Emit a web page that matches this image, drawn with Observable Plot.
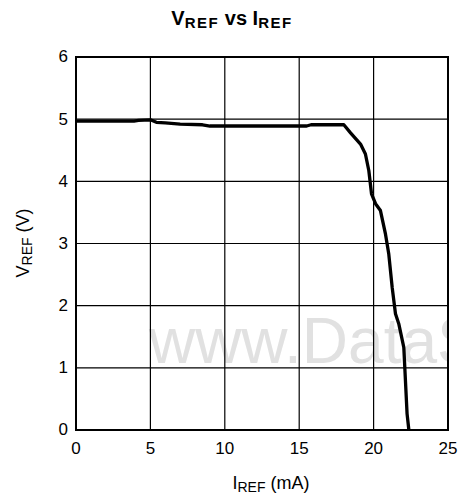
<!DOCTYPE html>
<html>
<head>
<meta charset="utf-8">
<script src="https://cdn.jsdelivr.net/npm/d3@7"></script>
<script src="https://cdn.jsdelivr.net/npm/@observablehq/plot@0.6"></script>
<style>
  html, body { margin: 0; padding: 0; background: #fff; }
  #chart svg { display: block; }
</style>
</head>
<body>
<div id="chart"></div>
<script>
// Data
const iref = [0, 3.9, 4.2, 5.0, 5.4, 6.0, 7.0, 8.5, 9.0, 15.5, 15.8, 18.0, 18.45, 19.12, 19.45, 19.68, 19.86, 20.13, 20.46, 20.80, 21.02, 21.25, 21.47, 21.69, 22.03, 22.25, 22.37];
const vref = [4.97, 4.97, 4.98, 4.99, 4.95, 4.94, 4.92, 4.91, 4.89, 4.89, 4.91, 4.91, 4.78, 4.60, 4.44, 4.17, 3.80, 3.64, 3.53, 3.15, 2.83, 2.29, 1.87, 1.71, 1.33, 0.26, 0.0];
const xTicks = [0, 5, 10, 15, 20, 25];
const yTicks = [0, 1, 2, 3, 4, 5, 6];
const watermark = "www.DataS";
const watermarkPos = {x: 4.9, y: 1.07};

const data = iref.map((x, i) => ({x, y: vref[i]}));

const font = "'Liberation Sans', Arial, Helvetica, sans-serif";

const chart = Plot.plot({
  width: 461,
  height: 499,
  marginLeft: 75.5,
  marginRight: 13.5,
  marginTop: 56.5,
  marginBottom: 69.5,
  style: {fontFamily: font, fontSize: "17px", background: "#fff", color: "#000"},
  x: {domain: [0, 25], ticks: xTicks, tickSize: 0, tickPadding: 12, label: null},
  y: {domain: [0, 6], ticks: yTicks, tickSize: 0, tickPadding: 8, label: null},
  marks: [
    Plot.text([watermarkPos], {
      x: "x", y: "y", text: () => watermark,
      textAnchor: "start", lineAnchor: "bottom",
      fontSize: 64, fill: "#e1e1e1", clip: "frame"
    }),
    Plot.gridX(xTicks, {stroke: "#000", strokeOpacity: 1, strokeWidth: 1.2}),
    Plot.gridY(yTicks, {stroke: "#000", strokeOpacity: 1, strokeWidth: 1.2}),
    Plot.frame({stroke: "#000", strokeWidth: 2}),
    Plot.axisX(xTicks, {tickSize: 0, tickPadding: 12, fontSize: 17, fill: "#000", label: null, tickFormat: d3.format("d")}),
    Plot.axisY(yTicks, {tickSize: 0, tickPadding: 8, fontSize: 17, fill: "#000", label: null, tickFormat: d3.format("d")}),
    Plot.line(data, {x: "x", y: "y", stroke: "#000", strokeWidth: 3.3, strokeLinejoin: "round", strokeLinecap: "butt"})
  ]
});

const svg = d3.select(chart);

// Title with subscripts
const title = svg.append("text")
  .attr("x", 232).attr("y", 25)
  .attr("text-anchor", "middle")
  .attr("font-family", font)
  .attr("font-weight", "bold")
  .attr("font-size", 20)
  .attr("fill", "#000");
title.append("tspan").text("V");
title.append("tspan").attr("dy", 3).attr("font-size", 15).attr("letter-spacing", 1.5).text("REF");
title.append("tspan").attr("dy", -3).text(" vs I");
title.append("tspan").attr("dy", 3).attr("font-size", 15).attr("letter-spacing", 1.5).text("REF");

// X axis label
const xl = svg.append("text")
  .attr("x", 271).attr("y", 489)
  .attr("text-anchor", "middle")
  .attr("font-family", font)
  .attr("font-size", 18)
  .attr("fill", "#000");
xl.append("tspan").text("I");
xl.append("tspan").attr("dy", 3).attr("font-size", 14).text("REF");
xl.append("tspan").attr("dy", -3).text(" (mA)");

// Y axis label
const yl = svg.append("text")
  .attr("transform", "translate(29,243) rotate(-90)")
  .attr("text-anchor", "middle")
  .attr("font-family", font)
  .attr("font-size", 18)
  .attr("fill", "#000");
yl.append("tspan").text("V");
yl.append("tspan").attr("dy", 3).attr("font-size", 14).text("REF");
yl.append("tspan").attr("dy", -3).text(" (V)");

document.getElementById("chart").appendChild(chart);
</script>
</body>
</html>
